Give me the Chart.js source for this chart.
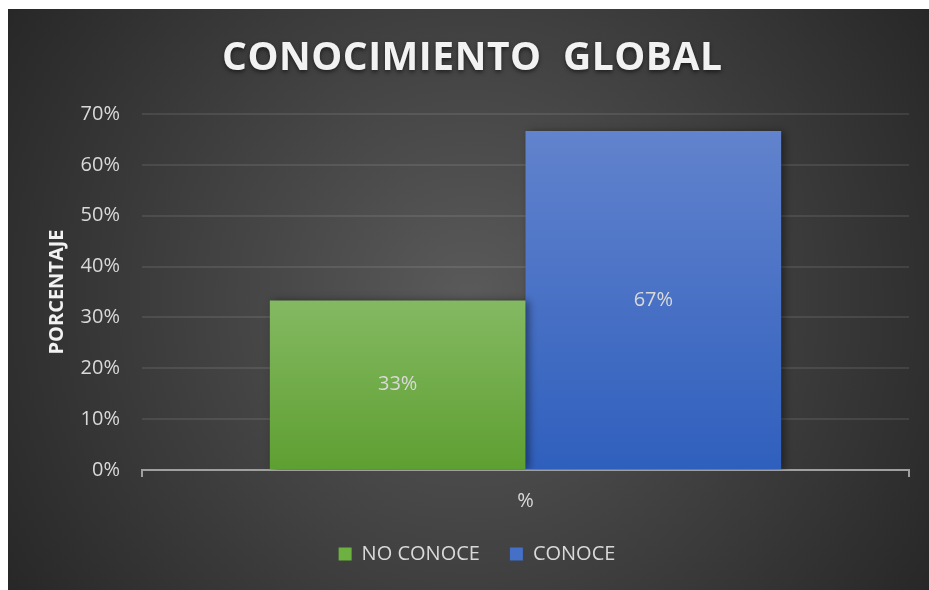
<!DOCTYPE html>
<html>
<head>
<meta charset="utf-8">
<script src="https://cdn.jsdelivr.net/npm/chart.js@4.4.1/dist/chart.umd.min.js"></script>
<style>
  html, body { margin: 0; padding: 0; background: #ffffff; }
  #wrap {
    position: absolute; left: 8px; top: 9px; width: 921px; height: 581px;
    background: radial-gradient(circle at 50% 50%, #5a5a5a 0px, #262626 560px);
  }
  canvas { display: block; }
</style>
</head>
<body>
<div id="wrap"><canvas id="c"></canvas></div>
<script>
const chartTitle = 'CONOCIMIENTO  GLOBAL';
const yAxisTitle = 'PORCENTAJE';
const categories = ['%'];
const seriesNames = ['NO CONOCE', 'CONOCE'];
const noConoceValues = [33.33];
const conoceValues = [66.67];
const yTickValues = [0, 10, 20, 30, 40, 50, 60, 70];

const FONT = "'Open Sans', 'DejaVu Sans', sans-serif";
const TEXT = '#d9d9d9';

function barGradient(top, bottom) {
  return (ctx) => {
    const chart = ctx.chart;
    if (!chart.chartArea || ctx.raw === undefined) return bottom;
    const y = chart.scales.y;
    const yTop = y.getPixelForValue(ctx.raw);
    const yBot = y.getPixelForValue(0);
    const g = chart.ctx.createLinearGradient(0, yTop, 0, yBot);
    g.addColorStop(0, top);
    g.addColorStop(1, bottom);
    return g;
  };
}
const legendColors = ['#6db240', '#4470c8'];

const shadowPlugin = {
  id: 'barShadow',
  beforeDatasetsDraw(chart) {
    const c = chart.ctx;
    c.save();
    c.shadowColor = 'rgba(0,0,0,0.45)';
    c.shadowBlur = 8;
    c.shadowOffsetX = 3;
    c.shadowOffsetY = 1;
  },
  afterDatasetsDraw(chart) { chart.ctx.restore(); }
};

const labelPlugin = {
  id: 'centerLabels',
  afterDraw(chart) {
    const c = chart.ctx;
    c.save();
    c.font = '20px ' + FONT;
    c.fillStyle = TEXT;
    c.textAlign = 'center';
    c.textBaseline = 'middle';
    chart.data.datasets.forEach((ds, i) => {
      const meta = chart.getDatasetMeta(i);
      meta.data.forEach((bar, j) => {
        const v = ds.data[j];
        c.fillText(Math.round(v) + '%', bar.x, (bar.y + bar.base) / 2);
      });
    });
    c.restore();
  }
};

const titlePlugin = {
  id: 'spacedTitle',
  afterDraw(chart) {
    const c = chart.ctx;
    c.save();
    c.font = 'bold 39px ' + FONT;
    c.letterSpacing = '0px';
    const w0 = c.measureText(chartTitle).width;
    const targetW = 500;
    const sp = Math.max(0, (targetW - w0) / (chartTitle.length - 1));
    c.letterSpacing = sp + 'px';
    c.fillStyle = '#f2f2f2';
    c.textAlign = 'left';
    c.textBaseline = 'middle';
    c.shadowColor = 'rgba(0,0,0,0.55)';
    c.shadowBlur = 4;
    c.shadowOffsetY = 2;
    c.fillText(chartTitle, 214, 50);
    c.restore();
  }
};

new Chart(document.getElementById('c'), {
  type: 'bar',
  data: {
    labels: categories,
    datasets: [
      { label: seriesNames[0], data: noConoceValues, backgroundColor: barGradient('#84b962', '#5e9f31') },
      { label: seriesNames[1], data: conoceValues, backgroundColor: barGradient('#6283cd', '#2f5fbd') }
    ]
  },
  options: {
    responsive: true,
    maintainAspectRatio: false,
    animation: false,
    devicePixelRatio: 1,
    categoryPercentage: 2 / 3,
    barPercentage: 1,
    layout: { padding: { left: 37, right: 20, top: 105, bottom: 16 } },
    plugins: {
      title: { display: false },
      tooltip: { enabled: false },
      legend: {
        position: 'bottom',
        labels: {
          color: TEXT,
          font: { family: FONT, size: 20 },
          boxWidth: 13,
          boxHeight: 13,
          padding: 30,
          generateLabels(chart) {
            return chart.data.datasets.map((ds, i) => ({
              text: ds.label,
              fillStyle: legendColors[i],
              strokeStyle: legendColors[i],
              lineWidth: 0,
              fontColor: TEXT,
              hidden: false,
              datasetIndex: i
            }));
          }
        }
      }
    },
    scales: {
      x: {
        z: 1,
        offset: true,
        afterFit(scale) { scale.height -= 11; },
        grid: { display: true, drawOnChartArea: false, drawTicks: true, tickLength: 7, color: '#a0a0a0', lineWidth: 2 },
        border: { display: true, color: '#a0a0a0', width: 2 },
        ticks: { color: TEXT, font: { family: FONT, size: 20 }, padding: 12 }
      },
      y: {
        min: 0,
        max: 70,
        afterBuildTicks(scale) { scale.ticks = yTickValues.map(v => ({ value: v })); },
        afterFit(scale) { scale.width = 97; },
        grid: { color: 'rgba(255,255,255,0.09)', lineWidth: 2, drawTicks: false },
        border: { display: false },
        ticks: { color: TEXT, font: { family: FONT, size: 20 }, padding: 22, callback: v => v + '%' },
        title: { display: true, text: yAxisTitle, color: '#f2f2f2', font: { family: FONT, size: 20, weight: 'bold' }, padding: { top: 0, bottom: 0 } }
      }
    }
  },
  plugins: [shadowPlugin, labelPlugin, titlePlugin]
});
</script>
</body>
</html>
